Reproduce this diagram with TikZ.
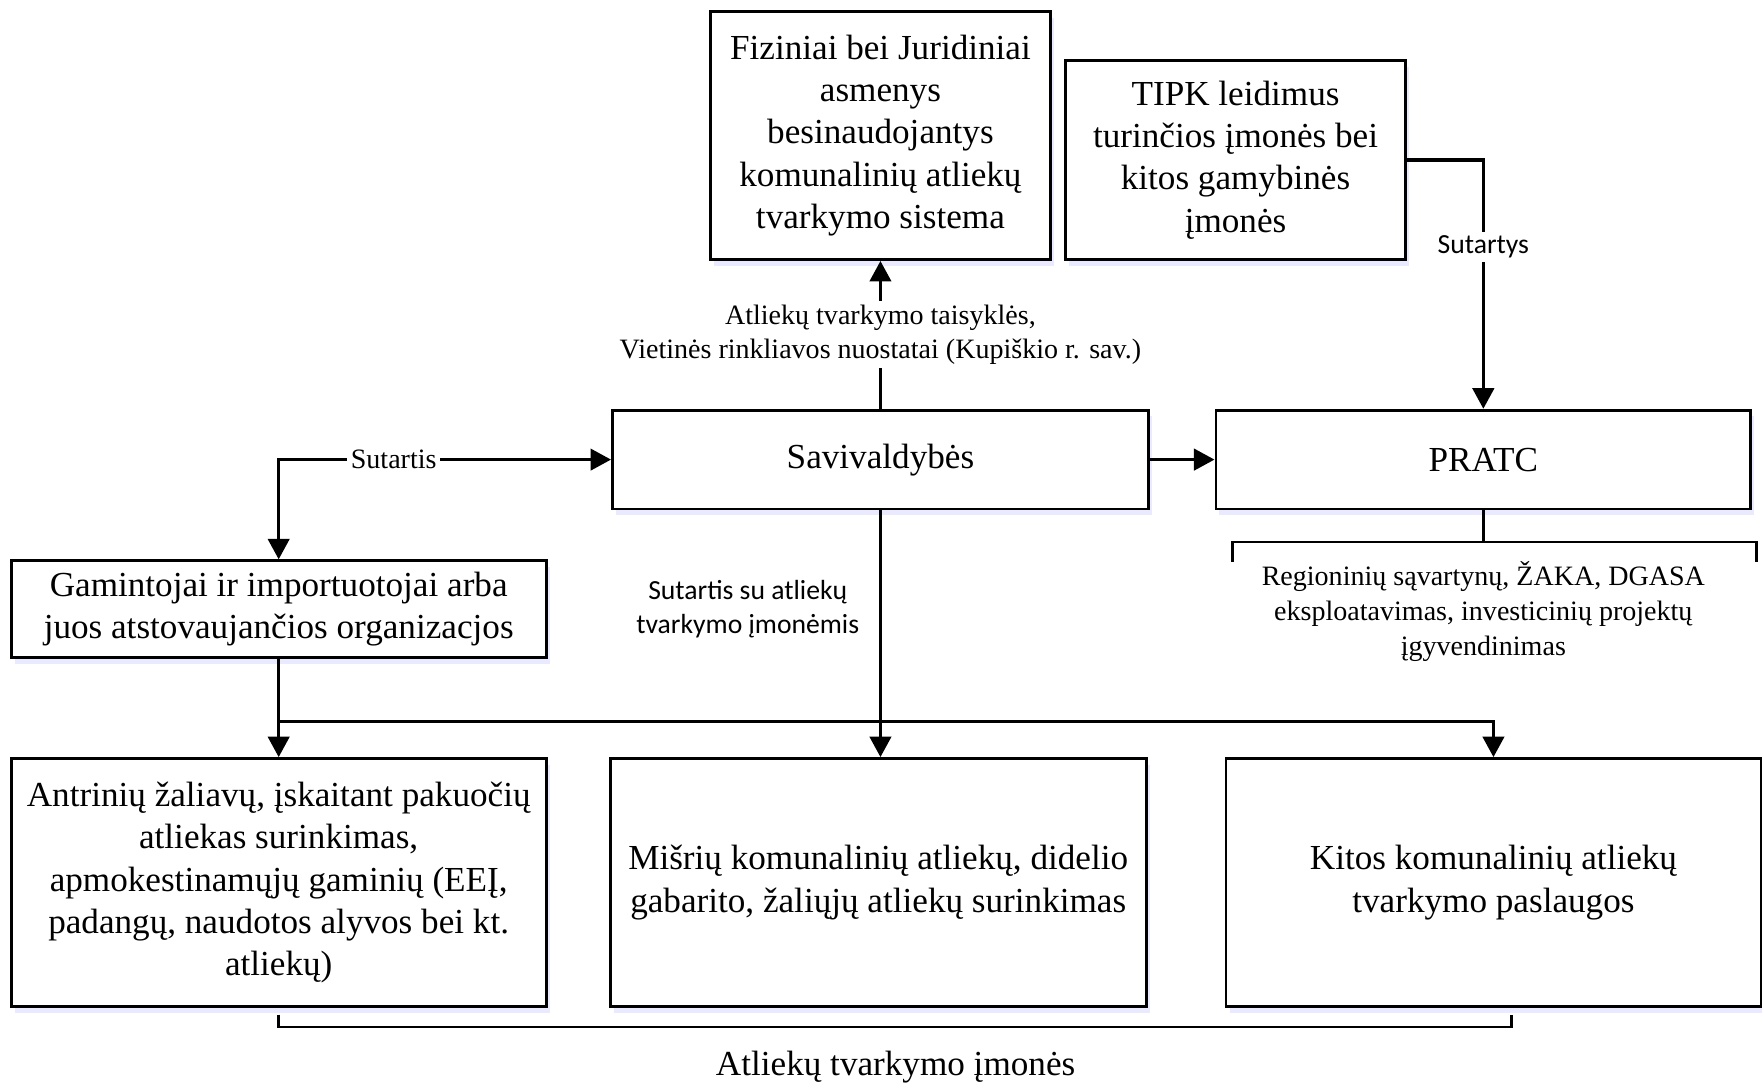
\documentclass[tikz,border=0pt]{standalone}
\usepackage{fontspec}
\setmainfont{Liberation Serif}
\newfontfamily\labelsans{Carlito}
\usetikzlibrary{positioning,arrows.meta,shadows}

\tikzset{
  box/.style={draw, line width=0.7pt, fill=white, align=center, inner sep=0pt,
    font=\fontsize{8.9}{10.7}\selectfont,
    drop shadow={shadow xshift=0.9pt, shadow yshift=-1.6pt, fill=blue!12, opacity=0.7}},
  wire/.style={line width=0.85pt},
  conn/.style={wire, ->},
  lbl/.style={fill=white, align=center, inner sep=1pt, font=\fontsize{7.1}{8.5}\selectfont},
  sanslbl/.style={lbl, font=\labelsans\fontsize{7}{8.6}\selectfont}
}

\begin{document}
\begin{tikzpicture}[node distance=2cm, on grid, >={Triangle[length=5.2pt,width=5.4pt]}]
  \useasboundingbox (0,0) rectangle (15.68,-9.68);
  \node[box, minimum width=4.77cm, minimum height=0.88cm] (savivald) at (7.835,-4.09) {Savivaldybės};
  \node[box, minimum width=4.76cm, minimum height=0.88cm] (pratc) [right=5.365cm of savivald] {PRATC};
  \node[box, minimum width=3.03cm, minimum height=2.21cm] (fiziniai) [above=2.885cm of savivald]
    {Fiziniai bei Juridiniai\\asmenys\\besinaudojantys\\komunalinių atliekų\\tvarkymo sistema};
  \node[box, minimum width=3.03cm, minimum height=1.77cm] (tipk) at (10.995,-1.425)
    {TIPK leidimus\\turinčios įmonės bei\\kitos gamybinės\\įmonės};
  \node[box, minimum width=4.76cm, minimum height=0.86cm] (gamintojai) at (2.48,-5.42)
    {Gamintojai ir importuotojai arba\\juos atstovaujančios organizacjos};
  \node[box, minimum width=4.76cm, minimum height=2.21cm] (antrines) at (2.48,-7.855)
    {Antrinių žaliavų, įskaitant pakuočių\\atliekas surinkimas,\\apmokestinamųjų gaminių (EEĮ,\\padangų, naudotos alyvos bei kt.\\atliekų)};
  \node[box, minimum width=4.77cm, minimum height=2.21cm] (misrios) [right=5.335cm of antrines]
    {Mišrių komunalinių atliekų, didelio\\gabarito, žaliųjų atliekų surinkimas};
  \node[box, minimum width=4.76cm, minimum height=2.21cm] (kitos) [right=5.475cm of misrios]
    {Kitos komunalinių atliekų\\tvarkymo paslaugos};

  \draw[conn] (savivald.north) -- node[lbl] {Atliekų tvarkymo taisyklės,\\Vietinės rinkliavos nuostatai (Kupiškio r. sav.)} (fiziniai.south);
  \draw[conn] (tipk.east) -| node[sanslbl, pos=0.675] {Sutartys} (pratc.north);
  \draw[conn] (savivald.east) -- (pratc.west);
  \draw[wire, <->] (gamintojai.north) |- node[lbl, pos=0.673] {Sutartis} (savivald.west);
  \draw[conn] (savivald.south) -- node[sanslbl, pos=0.4, anchor=east, xshift=-0.14cm] {Sutartis su atliekų\\tvarkymo įmonėmis} (savivald.south |- misrios.north);

  \coordinate[below=0.56cm of gamintojai.south] (split);
  \draw[wire] (gamintojai.south) -- (split);
  \draw[conn] (split) -- (antrines.north);
  \draw[conn] (split) -| (kitos.north);

  \coordinate[below=0.28cm of pratc.south] (pratcfork);
  \coordinate (pratcl) at (10.97,-5.00);
  \coordinate (pratcr) at (15.63,-5.00);
  \draw[wire] (pratc.south) -- (pratcfork);
  \draw[line width=0.7pt] (pratcl) |- (pratcfork) -| (pratcr);
  \node[lbl, font=\fontsize{7.1}{8.8}\selectfont] (pratcwork) at (13.20,-5.44)
    {Regioninių sąvartynų, ŽAKA, DGASA\\eksploatavimas, investicinių projektų\\įgyvendinimas};

  \coordinate (firmsl) at (2.48,-9.03);
  \coordinate (firmsr) at (13.45,-9.03);
  \draw[line width=0.7pt] (firmsl) -- ++(0,-0.11) -| (firmsr);
  \node[font=\fontsize{8.9}{10.7}\selectfont] (firms) at (7.97,-9.50) {Atliekų tvarkymo įmonės};
\end{tikzpicture}
\end{document}
